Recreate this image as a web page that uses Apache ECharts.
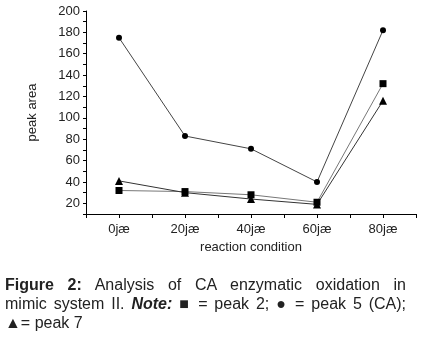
<!DOCTYPE html>
<html>
<head>
<meta charset="utf-8">
<script src="https://cdn.jsdelivr.net/npm/echarts@6/dist/echarts.min.js"></script>
<style>
  html, body { margin: 0; padding: 0; background: #fff; }
  #chart { position: absolute; left: 0; top: 0; width: 427px; height: 337px; }
  #caption {
    position: absolute; left: 5px; top: 275px; width: 401px;
    font-family: "Liberation Sans", Arial, sans-serif; font-size: 16px;
    line-height: 19px; color: #222;
  }
  #caption .j { text-align: justify; text-align-last: justify; white-space: nowrap; }
  #caption b { font-weight: bold; }
</style>
</head>
<body>
<div id="chart"></div>
<div id="caption">
  <div class="j"><b>Figure 2:</b> Analysis of CA enzymatic oxidation in</div>
  <div class="j">mimic system II. <b><i>Note:</i></b> ■ = peak 2; ● = peak 5 (CA);</div>
  <div>▲= peak 7</div>
</div>
<script>
// Reaction conditions along the x axis
const categories = ['0jæ', '20jæ', '40jæ', '60jæ', '80jæ'];
// Peak areas per condition
const peak2 = [32, 31, 28, 21, 132];
const peak5 = [175, 83, 71, 40, 182];
const peak7 = [41, 30, 24, 19, 116];

const chart = echarts.init(document.getElementById('chart'));
const font = '"Liberation Sans", Arial, sans-serif';

function lineSeries(name, data, symbol, size, color) {
  return {
    name: name, type: 'line', data: data,
    symbol: symbol, symbolSize: size,
    itemStyle: { color: '#000' },
    lineStyle: { color: color, width: 1 },
    emphasis: { disabled: true },
    z: 3
  };
}

chart.setOption({
  animation: false,
  grid: { left: 86, right: 11, top: 11, bottom: 123 },
  xAxis: [
    {
      type: 'category', data: categories, boundaryGap: true,
      name: 'reaction condition', nameLocation: 'middle', nameGap: 26,
      nameTextStyle: { fontFamily: font, fontSize: 13, color: '#222' },
      axisLine: { lineStyle: { color: '#000', width: 1 } },
      axisTick: { show: true, length: 4, lineStyle: { color: '#000' } },
      axisLabel: { fontFamily: font, fontSize: 13, color: '#222', margin: 9 },
      splitLine: { show: false }
    },
    {
      // ticks at the category centres
      type: 'category', data: categories, boundaryGap: true, position: 'bottom',
      axisLine: { show: false },
      axisTick: { show: true, alignWithLabel: true, length: 4, lineStyle: { color: '#000' } },
      axisLabel: { show: false },
      splitLine: { show: false }
    }
  ],
  yAxis: {
    type: 'value', min: 10, max: 200, interval: 10,
    name: 'peak area', nameLocation: 'middle', nameGap: 47, nameRotate: 90,
    nameTextStyle: { fontFamily: font, fontSize: 13, color: '#222' },
    axisLine: { show: true, lineStyle: { color: '#000', width: 1 } },
    axisTick: { show: true, length: 3, lineStyle: { color: '#000' } },
    axisLabel: {
      fontFamily: font, fontSize: 13, color: '#222', margin: 6,
      formatter: v => (v % 20 === 0 ? String(v) : '')
    },
    splitLine: { show: false }
  },
  series: [
    lineSeries('peak 2', peak2, 'rect', 7, '#777'),
    lineSeries('peak 5 (CA)', peak5, 'circle', 6, '#444'),
    lineSeries('peak 7', peak7, 'triangle', 8, '#333')
  ]
});
</script>
</body>
</html>
